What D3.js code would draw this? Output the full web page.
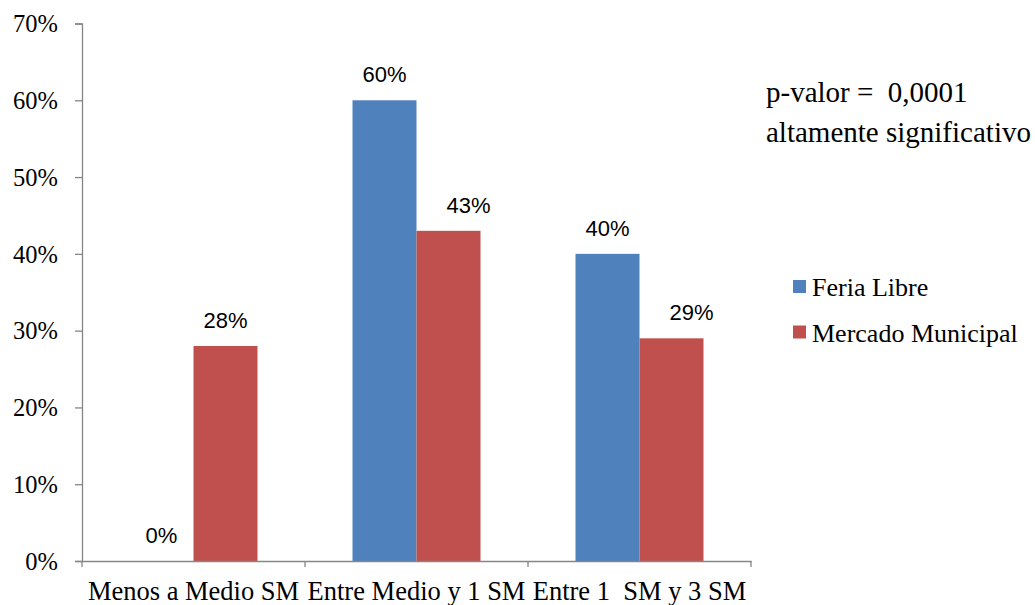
<!DOCTYPE html>
<html>
<head>
<meta charset="utf-8">
<script src="https://cdn.jsdelivr.net/npm/d3@7"></script>
<style>
  html, body { margin: 0; padding: 0; background: #fff; }
  svg { display: block; }
  text { white-space: pre; }
  .serif { font-family: "Liberation Serif", "Times New Roman", serif; }
  .sans { font-family: "Liberation Sans", Arial, sans-serif; }
</style>
</head>
<body>
<svg id="chart" width="1035" height="605"></svg>
<script>
// ---- data ----
const categories = ["Menos a Medio SM", "Entre Medio y 1 SM", "Entre 1  SM y 3 SM"];
const seriesNames = ["Feria Libre", "Mercado Municipal"];
const feriaLibre = [0.00, 0.60, 0.40];
const mercadoMunicipal = [0.28, 0.43, 0.29];
const valueLabels = [["0%", "28%"], ["60%", "43%"], ["40%", "29%"]];
const yTicks = [0, 0.1, 0.2, 0.3, 0.4, 0.5, 0.6, 0.7];
const noteLines = ["p-valor =  0,0001", "altamente significativo"];

// ---- style ----
const colors = ["#4F81BD", "#C0504D"];
const axisColor = "#868686";
const labelShift = [[0, 0], [0, 20], [0, 20]]; // manual label nudges as in reference

const svg = d3.select("#chart");
const plot = { left: 82, right: 751, top: 23.5, bottom: 561 };

const y = d3.scaleLinear().domain([0, 0.7]).range([plot.bottom, plot.top]);
const x0 = d3.scaleBand().domain(categories).range([plot.left, plot.right]).paddingInner(0).paddingOuter(0);
const barW = x0.bandwidth() * 0.287;
const x1 = d3.scaleBand().domain(seriesNames).range([0, barW * 2]);

const values = [feriaLibre, mercadoMunicipal];

// bars
seriesNames.forEach((s, si) => {
  svg.append("g").selectAll("rect")
    .data(categories.map((c, ci) => ({ c, ci, v: values[si][ci] })))
    .join("rect")
    .attr("x", d => x0(d.c) + x0.bandwidth() / 2 - barW + x1(s))
    .attr("y", d => y(d.v))
    .attr("width", x1.bandwidth())
    .attr("height", d => y(0) - y(d.v))
    .attr("fill", colors[si]);
});

// y axis
const yAxis = d3.axisLeft(y).tickValues(yTicks).tickFormat(d3.format(".0%")).tickSize(7).tickPadding(17);
const gy = svg.append("g").attr("transform", `translate(${plot.left},0)`).call(yAxis)
  .attr("font-family", null).attr("font-size", null);
gy.select(".domain").attr("stroke", axisColor).attr("stroke-width", 1.3);
gy.selectAll(".tick line").attr("stroke", axisColor).attr("stroke-width", 1.3);
gy.selectAll(".tick text").attr("class", "serif").style("font-size", "24.5px").attr("fill", "#000").attr("dy", "0.34em");

// x axis
const xAxis = d3.axisBottom(x0).tickSize(0).tickPadding(0);
const gx = svg.append("g").attr("transform", `translate(0,${plot.bottom})`).call(xAxis)
  .attr("font-family", null).attr("font-size", null);
gx.select(".domain").attr("stroke", axisColor).attr("stroke-width", 1.3);
gx.selectAll(".tick text").attr("class", "serif").style("font-size", "26.5px").attr("fill", "#000")
  .attr("dy", null).attr("y", 39);
// boundary ticks
const bounds = categories.map(c => x0(c)).concat([x0.range()[1]]);
gx.append("g").selectAll("line").data(bounds).join("line")
  .attr("x1", d => d).attr("x2", d => d).attr("y1", 0).attr("y2", 6)
  .attr("stroke", axisColor).attr("stroke-width", 1.3);

// value labels
seriesNames.forEach((s, si) => {
  svg.append("g").selectAll("text")
    .data(categories.map((c, ci) => ({ c, ci, v: values[si][ci] })))
    .join("text")
    .attr("class", "sans")
    .attr("x", d => x0(d.c) + x0.bandwidth() / 2 - barW + x1(s) + x1.bandwidth() / 2 + labelShift[d.ci][si])
    .attr("y", d => y(d.v) - 18)
    .attr("text-anchor", "middle")
    .style("font-size", "22px")
    .attr("fill", "#000")
    .text(d => valueLabels[d.ci][si]);
});

// note
svg.append("g").selectAll("text").data(noteLines).join("text")
  .attr("class", "serif")
  .attr("x", 766).attr("y", (d, i) => 102 + i * 40)
  .style("font-size", "29px").attr("fill", "#000")
  .text(d => d);

// legend
const lg = svg.append("g").attr("transform", "translate(793,280)");
seriesNames.forEach((s, i) => {
  lg.append("rect").attr("x", 0).attr("y", i * 45.5).attr("width", 13).attr("height", 13).attr("fill", colors[i]);
  lg.append("text").attr("class", "serif").attr("x", 19).attr("y", i * 45.5 + 16).style("font-size", "26px")
    .attr("fill", "#000").text(s);
});
</script>
</body>
</html>
